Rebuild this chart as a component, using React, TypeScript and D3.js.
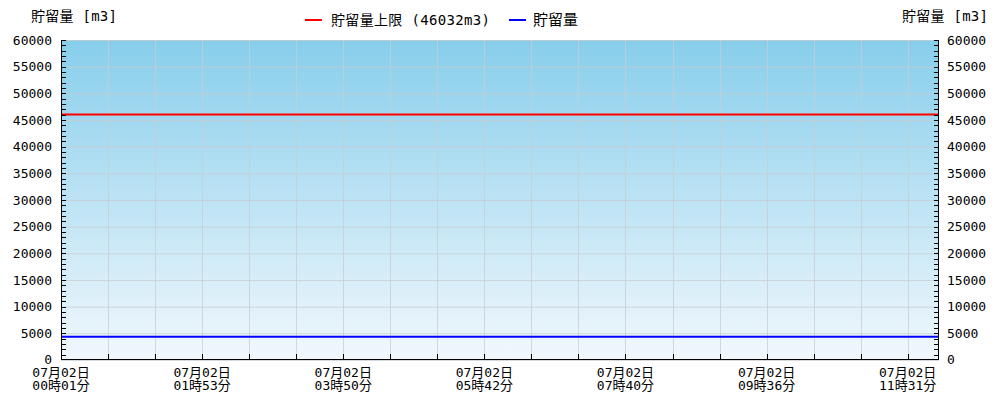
import React from "react";
import * as d3 from "d3";

const W = 1000;
const H = 400;
const M = { left: 61, right: 939, top: 40, bottom: 360 };

// x axis: sample grid index (19 grid ticks, labels every 3rd)
const xGridCount = 19;
const xDomainEnd = 18.665;
const xLabelIdx = [0, 3, 6, 9, 12, 15, 18];
const xLabelDate = ["07月02日", "07月02日", "07月02日", "07月02日", "07月02日", "07月02日", "07月02日"];
const xLabelTime = ["00時01分", "01時53分", "03時50分", "05時42分", "07時40分", "09時36分", "11時31分"];

// y axis
const yMax = 60000;
const yMajorTicks = [0, 5000, 10000, 15000, 20000, 25000, 30000, 35000, 40000, 45000, 50000, 55000, 60000];
const yMinorStep = 1000;

// series
const limitValue = 46032;
const storageX = [0, 3, 6, 9, 12, 15, 18, 18.665];
const storageY = [4370, 4370, 4370, 4370, 4370, 4370, 4370, 4370];

const FONT = "'DejaVu Sans Mono', 'Noto Sans CJK JP', monospace";

export default function App() {
  const x = d3.scaleLinear().domain([0, xDomainEnd]).range([M.left, M.right]);
  const y = d3.scaleLinear().domain([0, yMax]).range([M.bottom, M.top]);
  const minor = d3.range(0, yMax + 1, yMinorStep);
  const grid = d3.range(0, xGridCount);
  const line = d3
    .line<number>()
    .x((_, i) => x(storageX[i]))
    .y((d) => y(d));

  return (
    <svg width={W} height={H} style={{ position: "absolute", left: 0, top: 0, fontFamily: FONT }}>
      <defs>
        <linearGradient id="bg" x1="0" y1="0" x2="0" y2="1">
          <stop offset="0%" stopColor="#87CEEB" />
          <stop offset="100%" stopColor="#F2F8FD" />
        </linearGradient>
      </defs>
      <rect width={W} height={H} fill="#fff" />
      <rect x={M.left} y={M.top} width={M.right - M.left} height={M.bottom - M.top} fill="url(#bg)" />
      {/* grid */}
      {yMajorTicks.map((t) => (
        <line key={"gy" + t} x1={M.left} x2={M.right} y1={y(t) + 0.5} y2={y(t) + 0.5} stroke="#c8ccd0" strokeOpacity={0.75} />
      ))}
      {grid.map((g) => (
        <line key={"gx" + g} x1={Math.round(x(g)) + 0.5} x2={Math.round(x(g)) + 0.5} y1={M.top} y2={M.bottom} stroke="#c8ccd0" strokeOpacity={0.75} />
      ))}
      {/* series */}
      <line x1={M.left} x2={M.right} y1={y(limitValue)} y2={y(limitValue)} stroke="#ff0000" strokeWidth={2} />
      <path d={line(storageY) || ""} fill="none" stroke="#0000ff" strokeWidth={2} />
      {/* axes */}
      <line x1={M.left + 0.5} x2={M.left + 0.5} y1={M.top} y2={M.bottom} stroke="#000" />
      <line x1={M.right - 0.5} x2={M.right - 0.5} y1={M.top} y2={M.bottom} stroke="#000" />
      <line x1={M.left} x2={M.right} y1={M.bottom - 0.5} y2={M.bottom - 0.5} stroke="#000" />
      {minor.map((t) => (
        <g key={"mt" + t}>
          <line x1={M.left} x2={M.left + 5} y1={Math.round(y(t)) + 0.5 - (t === 0 ? 1 : 0)} y2={Math.round(y(t)) + 0.5 - (t === 0 ? 1 : 0)} stroke="#000" />
          <line x1={M.right - 5} x2={M.right} y1={Math.round(y(t)) + 0.5 - (t === 0 ? 1 : 0)} y2={Math.round(y(t)) + 0.5 - (t === 0 ? 1 : 0)} stroke="#000" />
        </g>
      ))}
      {grid.map((g) => (
        <line key={"xt" + g} x1={Math.round(x(g)) + 0.5} x2={Math.round(x(g)) + 0.5} y1={M.bottom - 6} y2={M.bottom} stroke="#000" />
      ))}
      {/* y labels */}
      {yMajorTicks.map((t) => (
        <g key={"yl" + t} fontSize={13} fill="#000">
          <text x={M.left - 9} y={y(t) - (t === 0 ? 1 : 0)} dy="0.35em" textAnchor="end">{t}</text>
          <text x={M.right + 8} y={y(t) - (t === 0 ? 1 : 0)} dy="0.35em" textAnchor="start">{t}</text>
        </g>
      ))}
      {/* x labels */}
      {xLabelIdx.map((idx, i) => (
        <g key={"xl" + idx} fontSize={13} fill="#000" textAnchor="middle">
          <text x={x(idx)} y={377}>{xLabelDate[i]}</text>
          <text x={x(idx)} y={390}>{xLabelTime[i]}</text>
        </g>
      ))}
      {/* titles */}
      <text x={31} y={21} fontSize={14} textLength={86} lengthAdjust="spacing">貯留量 [m3]</text>
      <text x={902} y={21} fontSize={14} textLength={86} lengthAdjust="spacing">貯留量 [m3]</text>
      {/* legend */}
      <line x1={305} x2={322} y1={20} y2={20} stroke="#ff0000" strokeWidth={2} />
      <text x={331} y={25} fontSize={14} textLength={159} lengthAdjust="spacing">貯留量上限 (46032m3)</text>
      <line x1={509} x2={526} y1={20} y2={20} stroke="#0000ff" strokeWidth={2} />
      <text x={533} y={25} fontSize={15}>貯留量</text>
    </svg>
  );
}
